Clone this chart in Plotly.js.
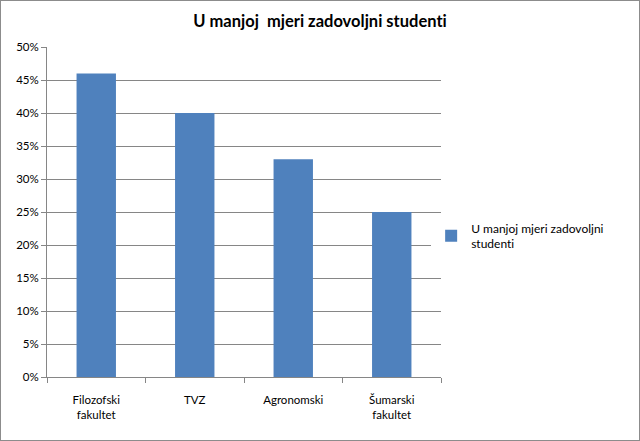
<!DOCTYPE html>
<html>
<head>
<meta charset="utf-8">
<script src="https://cdn.plot.ly/plotly-3.0.1.min.js"></script>
<style>
  body { margin: 0; background: #fff; }
  #chart { width: 640px; height: 441px; box-sizing: border-box; border: 1px solid #8c8c8c; }
  #chart text { font-variant-ligatures: none; font-feature-settings: "liga" 0, "clig" 0; }
</style>
</head>
<body>
<div id="chart"></div>
<script>
const categories = ['Filozofski<br>fakultet', 'TVZ', 'Agronomski', 'Šumarski<br>fakultet'];
const shares = [0.46, 0.40, 0.33, 0.25];
const seriesName = 'U manjoj mjeri zadovoljni<br>studenti';
const yTicks = [0, 0.05, 0.10, 0.15, 0.20, 0.25, 0.30, 0.35, 0.40, 0.45, 0.50];

function drawChart() {
    const el = document.getElementById('chart');
    const data = [{
        x: categories,
        y: shares,
        type: 'bar',
        name: seriesName,
        marker: { color: '#4f81bd' },
        showlegend: true,
        hoverinfo: 'x+y'
    }];
    const layout = {
        width: 638,
        height: 439,
        font: { family: 'Lato, "Open Sans", sans-serif', size: 11.5, color: '#000' },
        title: {
            text: '<b>U manjoj  mjeri zadovoljni studenti</b>',
            font: { size: 16.5, color: '#000' },
            xref: 'container',
            x: 0.5,
            yref: 'container',
            y: 0.955,
            yanchor: 'middle'
        },
        bargap: 0.6,
        xaxis: {
            type: 'category',
            tickson: 'boundaries',
            ticks: 'outside',
            ticklen: 5,
            tickcolor: '#868686',
            tickangle: 0,
            showline: true,
            linecolor: '#868686',
            showgrid: false,
            ticklabelstandoff: 12
        },
        yaxis: {
            range: [0, 0.5],
            tickvals: yTicks,
            tickformat: '.0%',
            ticks: 'outside',
            ticklen: 5,
            tickcolor: '#868686',
            showline: true,
            linecolor: '#868686',
            gridcolor: '#868686',
            zeroline: false
        },
        showlegend: true,
        legend: {
            x: 0.975,
            xanchor: 'left',
            y: 0.495,
            yanchor: 'top',
            itemwidth: 30,
            tracegroupgap: 0,
            font: { size: 12 }
        },
        plot_bgcolor: '#fff',
        paper_bgcolor: '#fff',
        margin: { l: 46, r: 198, t: 46, b: 63, pad: 0, autoexpand: false }
    };
    Plotly.newPlot(el, data, layout, { displayModeBar: false, staticPlot: true });
}
drawChart();
</script>
</body>
</html>
